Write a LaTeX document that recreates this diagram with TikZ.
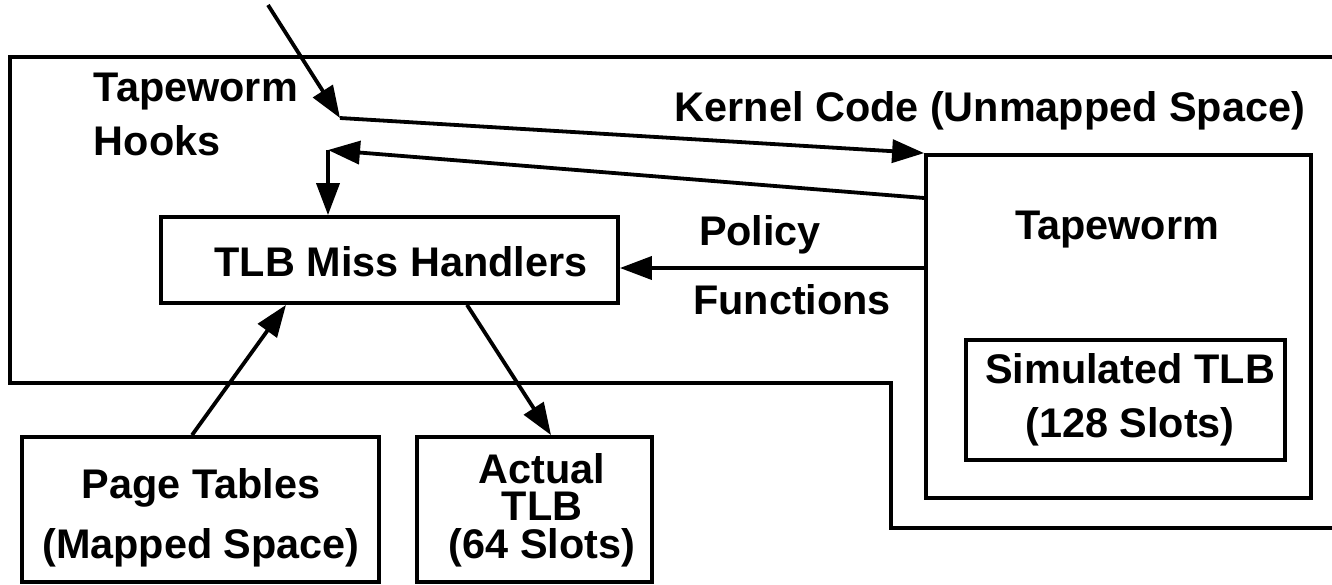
\documentclass[tikz,border=0pt]{standalone}
\usepackage{fontspec}
\setmainfont{Liberation Sans}
\usetikzlibrary{arrows.meta, calc}

\begin{document}
\begin{tikzpicture}[x=0.5pt, y=-0.5pt, line width=1.9pt,
    arr/.style={-{Triangle[length=16pt, width=11.5pt]}},
    box/.style={draw, rectangle, inner sep=0pt},
    txt/.style={font={\fontsize{20.7}{27}\selectfont\bfseries}, inner sep=0pt, align=center}]
    \useasboundingbox (0,0) rectangle (1332,584);

    % Kernel region
    \draw (1332,57) -| (10,383) -| (891,528) -- (1332,528);

    % Boxes
    \node[box, minimum width=228.5pt, minimum height=43pt] (miss) at (389.5,260) {};
    \node[box, minimum width=192.5pt, minimum height=171.5pt] (tape) at (1118.5,326.5) {};
    \node[box, minimum width=159.5pt, minimum height=60pt] (sim) at (1125.5,400) {};
    \node[box, minimum width=178.5pt, minimum height=72.5pt] (page) at (200.5,509.5) {};
    \node[box, minimum width=117.5pt, minimum height=72.5pt] (actual) at (534.5,509.5) {};

    % Texts
    \node[txt] (kernel) at (990,111) {Kernel Code (Unmapped Space)};
    \node[txt, align=left, anchor=west] (hooks) at (92,114.5) {Tapeworm\\Hooks};
    \node[txt] (policy) at (760,234.4) {Policy};
    \node[txt] (functions) at (792,300) {Functions};
    \node[txt] (tapetxt) at (1117,229.5) {Tapeworm};
    \node[txt] (misstxt) at (401,262) {TLB Miss Handlers};
    \node[txt] (pagetxt) at (201,517.3) {Page Tables\\[3pt](Mapped Space)};
    \node[txt] (actualtxt) at (542,509.8) {Actual\\[-8.25pt]TLB\\[-8.25pt](64 Slots)};
    \node[txt] (simtxt) at (1130,399.4) {Simulated TLB\\(128 Slots)};

    % Hook points
    \coordinate (entry) at (268,5);
    \coordinate (hookin) at (340,118);
    \coordinate (hookout) at (328,150);

    % Arrows
    \draw[arr] (entry) -- (hookin);
    \draw[arr] (hookin) -- (tape.north west);
    \draw[arr] (tape.north west |- 0,198) -- (hookout);
    \draw[arr] (hookout) -- (hookout |- miss.north);
    \draw[arr] (tape.west |- 0,268) -- (miss.east |- 0,268);
    \draw[arr] (192,0 |- page.north) -- (286,0 |- miss.south);
    \draw[arr] (467,0 |- miss.south) -- (551,0 |- actual.north);
\end{tikzpicture}
\end{document}
